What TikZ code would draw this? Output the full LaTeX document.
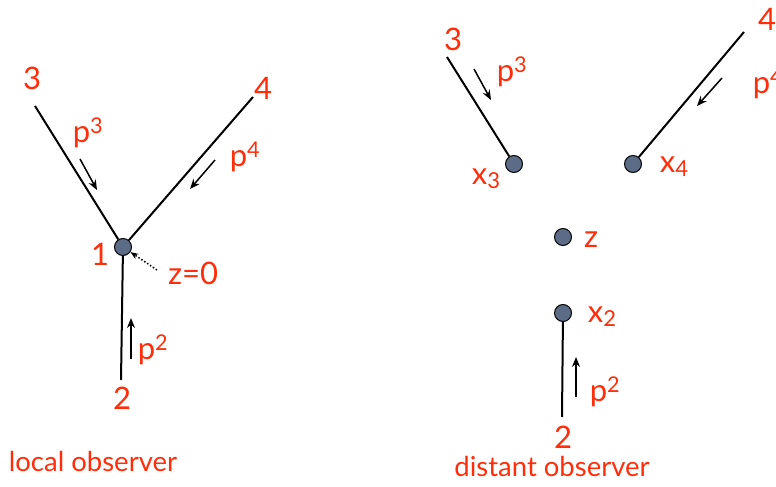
\documentclass[tikz,border=0pt]{standalone}
\usepackage{fontspec}
\setmainfont{Lato}
\usetikzlibrary{arrows.meta}
\definecolor{lbl}{RGB}{255,45,10}
\definecolor{vtx}{RGB}{92,108,134}
\newcommand{\mysub}[1]{\raisebox{-0.12em}{\fontsize{22}{22}\selectfont #1}}
\begin{document}
\begin{tikzpicture}[x=1pt,y=-1pt,
 lab/.style={text=lbl,font=\fontsize{31}{33}\selectfont,inner sep=0pt},
 obslabel/.style={text=lbl,font=\fontsize{27.5}{29}\selectfont,inner sep=0pt},
 vert/.style={circle,draw=black,line width=1pt,fill=vtx,minimum size=17pt,inner sep=0pt},
 leg/.style={line width=2pt},
 mom/.style={line width=1.5pt,-{Stealth[length=10pt,width=8pt]}},
]
\useasboundingbox (0,0) rectangle (776,487);
% ---- left: local observer
\node[vert] (v1) at (123,247) {};
\node[lab] (l3) at (32,78) {3};
\node[lab] (l4) at (263,88) {4};
\node[lab] (l2) at (122,398) {2};
\node[lab] (l1) at (100,254) {1};
\coordinate (e3) at (35,106);
\coordinate (e4) at (253,97);
\coordinate (e2) at (121,380);
\draw[leg] (e3) -- (v1);
\draw[leg] (e4) -- (v1);
\draw[leg] (e2) -- (v1);
\node[lab] (lp3) at (88,133) {p\textsuperscript{3}};
\node[lab] (lp4) at (245,157) {p\textsuperscript{4}};
\node[lab] (lp2) at (153,350) {p\textsuperscript{2}};
\coordinate (a3s) at (80,159); \coordinate (a3e) at (97,190);
\coordinate (a4s) at (215,160); \coordinate (a4e) at (190,189);
\coordinate (a2s) at (131,359); \coordinate (a2e) at (131,318);
\draw[mom] (a3s) -- (a3e);
\draw[mom] (a4s) -- (a4e);
\draw[mom] (a2s) -- (a2e);
\node[lab] (lz0) at (193,273) {z=0};
\coordinate (dz) at (157,270);
\draw[line width=1.5pt,dotted,-{Stealth[length=8pt,width=6pt]}] (dz) -- (v1);
\node[obslabel] (loc) at (93,461) {local observer};
% ---- right: distant observer
\node[vert] (x3) at (514,164) {};
\node[vert] (x4) at (633,164) {};
\node[vert] (z) at (563,237) {};
\node[vert] (x2) at (563,313) {};
\node[lab] (r3) at (453,39) {3};
\node[lab] (r4) at (767,19) {4};
\node[lab] (r2) at (563,437) {2};
\coordinate (f3) at (447,57);
\coordinate (f4) at (744,32);
\coordinate (f2) at (562,417);
\draw[leg] (f3) -- (x3);
\draw[leg] (f4) -- (x4);
\draw[leg] (f2) -- (x2);
\node[lab] (rp3) at (512,72) {p\textsuperscript{3}};
\node[lab] (rp4) at (768,84) {p\textsuperscript{4}};
\node[lab] (rp2) at (605,392) {p\textsuperscript{2}};
\coordinate (b3s) at (474,69); \coordinate (b3e) at (491,100);
\coordinate (b4s) at (722,78); \coordinate (b4e) at (697,106);
\coordinate (b2s) at (576,397); \coordinate (b2e) at (576,357);
\draw[mom] (b3s) -- (b3e);
\draw[mom] (b4s) -- (b4e);
\draw[mom] (b2s) -- (b2e);
\node[lab] (lx3) at (486,179) {x\mysub{3}};
\node[lab] (lx4) at (674,167) {x\mysub{4}};
\node[lab] (lz) at (591,240) {z};
\node[lab] (lx2) at (602,317) {x\mysub{2}};
\node[obslabel] (dist) at (552,466) {distant observer};
\end{tikzpicture}
\end{document}
